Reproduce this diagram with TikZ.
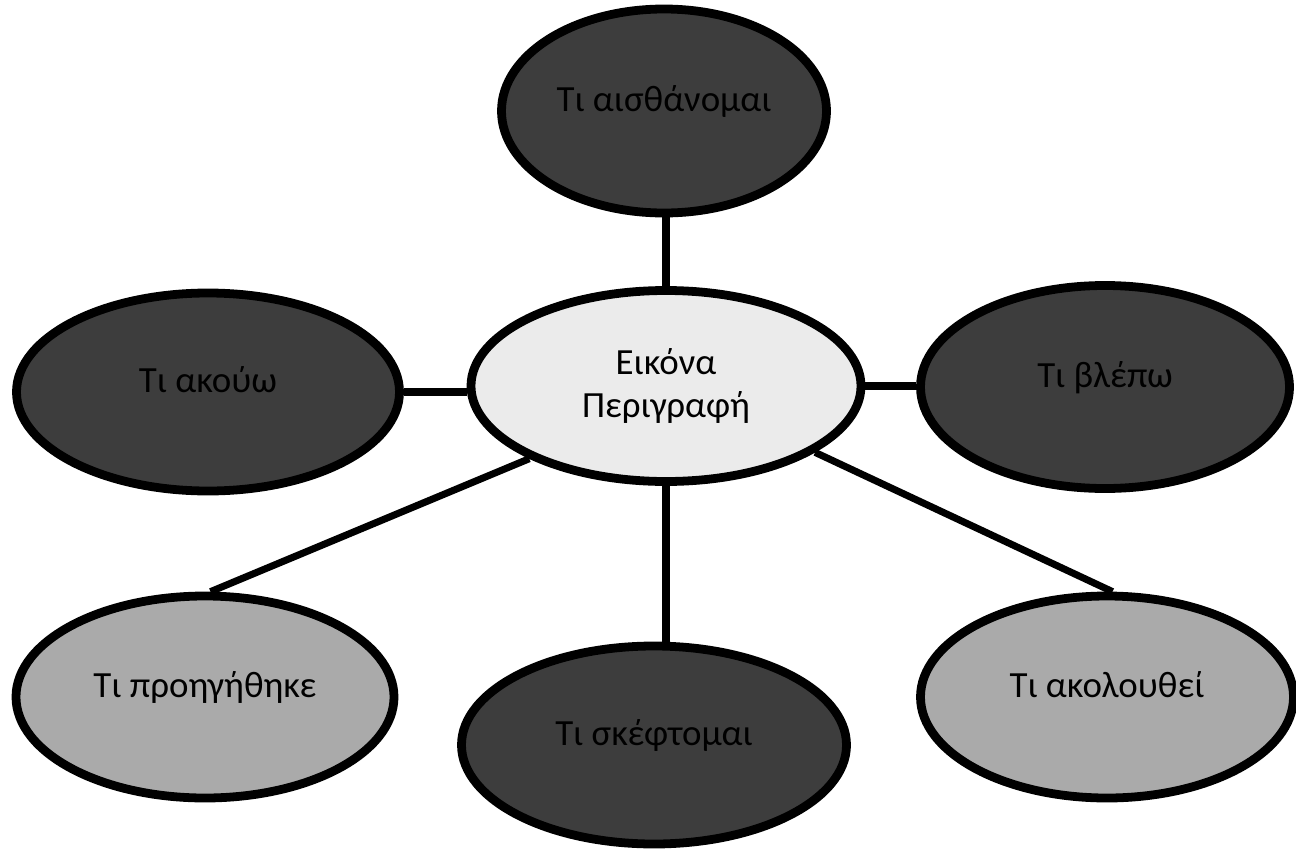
\documentclass[tikz,border=0pt]{standalone}
\usepackage{fontspec}
\setmainfont{Carlito}
\usepackage{tikz}
\usetikzlibrary{shapes.geometric}

\definecolor{darkfill}{HTML}{3D3D3D}
\definecolor{midfill}{HTML}{AAAAAA}
\definecolor{lightfill}{HTML}{EBEBEB}

\begin{document}
\begin{tikzpicture}
  [every node/.style={draw,ellipse,line width=5pt,font=\fontsize{21}{25}\selectfont,
                      text height=0.45cm,text depth=0.45cm},
   dark/.style={fill=darkfill},
   mid/.style={fill=midfill},
   link/.style={line width=4pt}]
  \useasboundingbox (0,0) rectangle (25.92,-17);
  \node[fill=lightfill,align=center,text height=,text depth=,
        minimum width=7.8cm,minimum height=3.82cm] (pic) at (13.32,-7.72) {Εικόνα\\Περιγραφή};
  \node[dark,minimum width=6.5cm,minimum height=4.08cm] (sense) at (13.28,-2.22) {Τι αισθάνομαι};
  \node[dark,minimum width=7.66cm,minimum height=3.96cm] (hear) at (4.16,-7.84) {Τι ακούω};
  \node[dark,minimum width=7.38cm,minimum height=4.06cm] (see) at (22.1,-7.74) {Τι βλέπω};
  \node[mid,minimum width=7.56cm,minimum height=4.04cm] (before) at (4.1,-13.94) {Τι προηγήθηκε};
  \node[dark,minimum width=7.7cm,minimum height=3.96cm] (think) at (13.08,-14.9) {Τι σκέφτομαι};
  \node[mid,minimum width=7.46cm,minimum height=4.04cm] (after) at (22.14,-13.94) {Τι ακολουθεί};
  \draw[link] (pic.north) -- (pic.north |- sense.south);
  \draw[link] (hear.east) -- (hear.east -| pic.west);
  \draw[link] (pic.east) -- (pic.east -| see.west);
  \draw[link] (pic.south) -- (pic.south |- think.north);
  \draw[link] (pic.208) -- (before.87);
  \draw[link] (pic.336) -- (after.87);
\end{tikzpicture}
\end{document}
